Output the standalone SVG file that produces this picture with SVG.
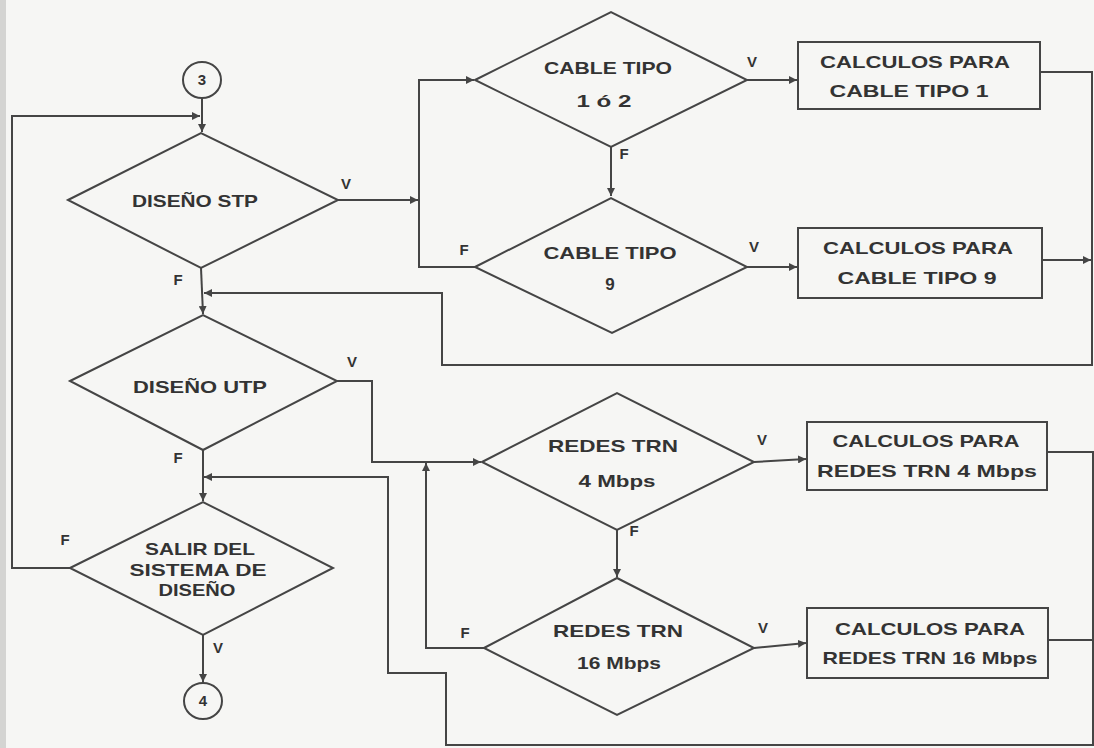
<svg xmlns="http://www.w3.org/2000/svg" width="1094" height="748" viewBox="0 0 1094 748">
<style>
.bg{fill:#f6f6f4}
.shape{fill:none;stroke:#454545;stroke-width:2}
.ln{fill:none;stroke:#454545;stroke-width:2}
.t{font-family:"Liberation Sans",Arial,sans-serif;font-weight:bold;font-size:17px;fill:#333;text-anchor:middle}
.lb{font-family:"Liberation Sans",Arial,sans-serif;font-weight:bold;font-size:15px;fill:#333;text-anchor:middle}
</style>
<defs>
<marker id="ar" markerUnits="userSpaceOnUse" markerWidth="9" markerHeight="8" refX="8" refY="4" orient="auto">
<path d="M0,0 L8,4 L0,8 z" fill="#454545"/>
</marker>
</defs>
<rect class="bg" x="0" y="0" width="1094" height="748"/>
<rect x="0" y="0" width="6" height="748" fill="#d4d4d2"/>

<g id="connectors">
<line class="ln" x1="202" y1="98" x2="202" y2="132" marker-end="url(#ar)"/>
<polyline class="ln" points="70,568 12,568 12,116 200,116" marker-end="url(#ar)"/>
<line class="ln" x1="338" y1="200" x2="418" y2="200" marker-end="url(#ar)"/>
<polyline class="ln" points="475,267 419,267 419,80 474,80" marker-end="url(#ar)"/>
<line class="ln" x1="747" y1="80" x2="797" y2="80" marker-end="url(#ar)"/>
<line class="ln" x1="611" y1="147" x2="611" y2="196" marker-end="url(#ar)"/>
<line class="ln" x1="747" y1="267" x2="797" y2="267" marker-end="url(#ar)"/>
<polyline class="ln" points="1040,72 1092,72 1092,365 442,365 442,293 204,293" marker-end="url(#ar)"/>
<line class="ln" x1="1042" y1="260" x2="1091" y2="260" marker-end="url(#ar)"/>
<line class="ln" x1="201" y1="268" x2="203" y2="314" marker-end="url(#ar)"/>
<polyline class="ln" points="337,381 372,381 372,462 481,462" marker-end="url(#ar)"/>
<polyline class="ln" points="484,648 426,648 426,463" marker-end="url(#ar)"/>
<line class="ln" x1="754" y1="462" x2="806" y2="459" marker-end="url(#ar)"/>
<line class="ln" x1="617" y1="530" x2="617" y2="577" marker-end="url(#ar)"/>
<line class="ln" x1="754" y1="648" x2="806" y2="643" marker-end="url(#ar)"/>
<polyline class="ln" points="1047,452 1093,452 1093,745 446,745 446,673 388,673 388,477 204,477" marker-end="url(#ar)"/>
<line class="ln" x1="1048" y1="640" x2="1093" y2="640"/>
<line class="ln" x1="203" y1="450" x2="203" y2="501" marker-end="url(#ar)"/>
<line class="ln" x1="203" y1="635" x2="203" y2="682" marker-end="url(#ar)"/>
</g>

<g id="c3">
<ellipse class="shape" cx="202" cy="80" rx="19" ry="18"/>
<text class="lb" x="202" y="85">3</text>
</g>
<g id="d_stp">
<polygon class="shape" points="68,200 201,133 338,200 201,268"/>
<text class="t" x="195" y="207" textLength="126" lengthAdjust="spacingAndGlyphs">DISEÑO STP</text>
<text class="lb" x="346" y="189">V</text>
<text class="lb" x="178" y="285">F</text>
</g>
<g id="d_ct12">
<polygon class="shape" points="475,80 611,12 747,80 611,147"/>
<text class="t" x="608" y="74" textLength="128" lengthAdjust="spacingAndGlyphs">CABLE TIPO</text>
<text class="t" x="604" y="107" textLength="55" lengthAdjust="spacingAndGlyphs">1 ó 2</text>
<text class="lb" x="752" y="67">V</text>
<text class="lb" x="624" y="159">F</text>
</g>
<g id="b1">
<rect class="shape" x="798" y="42" width="242" height="67"/>
<text class="t" x="915" y="68" textLength="190" lengthAdjust="spacingAndGlyphs">CALCULOS PARA</text>
<text class="t" x="909" y="97" textLength="159" lengthAdjust="spacingAndGlyphs">CABLE TIPO 1</text>
</g>
<g id="d_ct9">
<polygon class="shape" points="475,267 611,198 747,267 612,333"/>
<text class="t" x="610" y="259" textLength="133" lengthAdjust="spacingAndGlyphs">CABLE TIPO</text>
<text class="t" x="610" y="290">9</text>
<text class="lb" x="464" y="255">F</text>
<text class="lb" x="754" y="252">V</text>
</g>
<g id="b2">
<rect class="shape" x="798" y="228" width="244" height="70"/>
<text class="t" x="918" y="254" textLength="190" lengthAdjust="spacingAndGlyphs">CALCULOS PARA</text>
<text class="t" x="917" y="284" textLength="159" lengthAdjust="spacingAndGlyphs">CABLE TIPO 9</text>
</g>
<g id="d_utp">
<polygon class="shape" points="70,381 203,315 337,381 203,450"/>
<text class="t" x="200" y="393" textLength="134" lengthAdjust="spacingAndGlyphs">DISEÑO UTP</text>
<text class="lb" x="352" y="367">V</text>
<text class="lb" x="178" y="463">F</text>
</g>
<g id="d_rt4">
<polygon class="shape" points="482,462 617,393 754,462 617,530"/>
<text class="t" x="613" y="452" textLength="130" lengthAdjust="spacingAndGlyphs">REDES TRN</text>
<text class="t" x="617" y="487" textLength="77" lengthAdjust="spacingAndGlyphs">4 Mbps</text>
<text class="lb" x="762" y="445">V</text>
<text class="lb" x="634" y="536">F</text>
</g>
<g id="b3">
<rect class="shape" x="807" y="422" width="240" height="68"/>
<text class="t" x="926" y="447" textLength="187" lengthAdjust="spacingAndGlyphs">CALCULOS PARA</text>
<text class="t" x="927" y="477" textLength="220" lengthAdjust="spacingAndGlyphs">REDES TRN 4 Mbps</text>
</g>
<g id="d_rt16">
<polygon class="shape" points="484,648 617,578 754,648 617,715"/>
<text class="t" x="618" y="637" textLength="130" lengthAdjust="spacingAndGlyphs">REDES TRN</text>
<text class="t" x="619" y="669" textLength="84" lengthAdjust="spacingAndGlyphs">16 Mbps</text>
<text class="lb" x="465" y="638">F</text>
<text class="lb" x="763" y="633">V</text>
</g>
<g id="b4">
<rect class="shape" x="807" y="608" width="241" height="70"/>
<text class="t" x="930" y="635" textLength="190" lengthAdjust="spacingAndGlyphs">CALCULOS PARA</text>
<text class="t" x="930" y="664" textLength="215" lengthAdjust="spacingAndGlyphs">REDES TRN 16 Mbps</text>
</g>
<g id="d_salir">
<polygon class="shape" points="70,568 203,502 333,568 203,635"/>
<text class="t" x="200" y="555" textLength="110" lengthAdjust="spacingAndGlyphs">SALIR DEL</text>
<text class="t" x="198" y="576" textLength="137" lengthAdjust="spacingAndGlyphs">SISTEMA DE</text>
<text class="t" x="197" y="596" textLength="77" lengthAdjust="spacingAndGlyphs">DISEÑO</text>
<text class="lb" x="65" y="545">F</text>
<text class="lb" x="218" y="653">V</text>
</g>
<g id="c4">
<ellipse class="shape" cx="203" cy="701" rx="19" ry="18"/>
<text class="lb" x="203" y="706">4</text>
</g>
</svg>
